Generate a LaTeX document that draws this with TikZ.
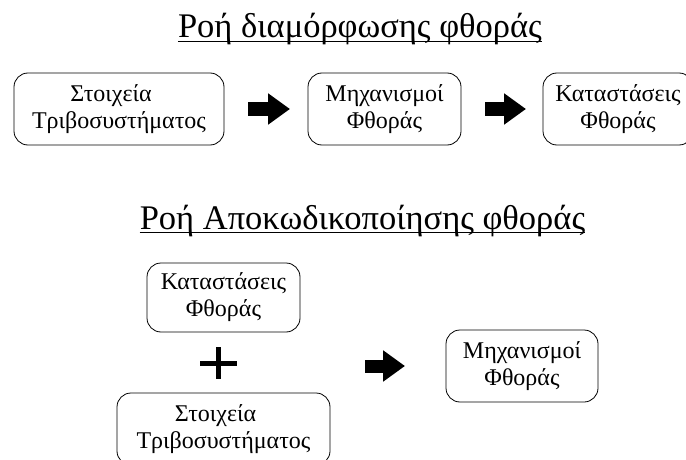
\documentclass[tikz,border=0pt]{standalone}
\usepackage{fontspec}
\setmainfont{Liberation Serif}
\usetikzlibrary{arrows.meta}

\tikzset{
  box/.style={draw,line width=0.8pt,rounded corners=14pt,align=center,
    minimum height=72pt,font=\fontsize{24}{27}\selectfont},
  title/.style={anchor=base,inner sep=0pt,font=\fontsize{34.5}{34.5}\selectfont},
  blockarrow/.style={line width=13pt,-{Triangle[length=22pt,width=30pt]}},
}

\begin{document}
\begin{tikzpicture}[x=1pt,y=-1pt]
\useasboundingbox (0,0) rectangle (686,460);
\node [title] (t1) at (360,38) {Ροή διαμόρφωσης φθοράς};
\node [title] (t2) at (362.5,229) {Ροή Αποκωδικοποίησης φθοράς};
\draw [line width=1.8pt] ([yshift=-3.5pt]t1.base west) -- ([yshift=-3.5pt]t1.base east);
\draw [line width=1.8pt] ([yshift=-3.5pt]t2.base west) -- ([yshift=-3.5pt]t2.base east);
\node [box,minimum width=210pt] (b1) at (119,109) {Στοιχεία\kern16pt\\Τριβοσυστήματος};
\node [box,minimum width=153pt] (b2) at (384.5,109) {Μηχανισμοί\\Φθοράς};
\node [box,minimum width=150pt] (b3) at (618,109) {Καταστάσεις\\Φθοράς};
\node [box,minimum width=153pt,minimum height=69pt] (b4) at (223.5,297.5) {Καταστάσεις\\Φθοράς};
\node [box,minimum width=213pt] (b5) at (223.5,429) {Στοιχεία\kern16pt\\Τριβοσυστήματος};
\node [box,minimum width=152pt] (b6) at (522,366) {Μηχανισμοί\\Φθοράς};
% plus sign
\coordinate (plus) at (218.5,363);
\draw [line width=5pt] ([xshift=-18.5pt]plus) -- ([xshift=18.5pt]plus);
\draw [line width=5pt] ([yshift=16pt]plus) -- ([yshift=-16pt]plus);
\coordinate (a1s) at (248,109);
\coordinate (a1e) at (290,109);
\coordinate (a2s) at (485,109);
\coordinate (a2e) at (526,109);
\coordinate (a3s) at (365,366);
\coordinate (a3e) at (405,366);
\draw [blockarrow] (a1s) -- (a1e);
\draw [blockarrow] (a2s) -- (a2e);
\draw [blockarrow] (a3s) -- (a3e);
\end{tikzpicture}
\end{document}
